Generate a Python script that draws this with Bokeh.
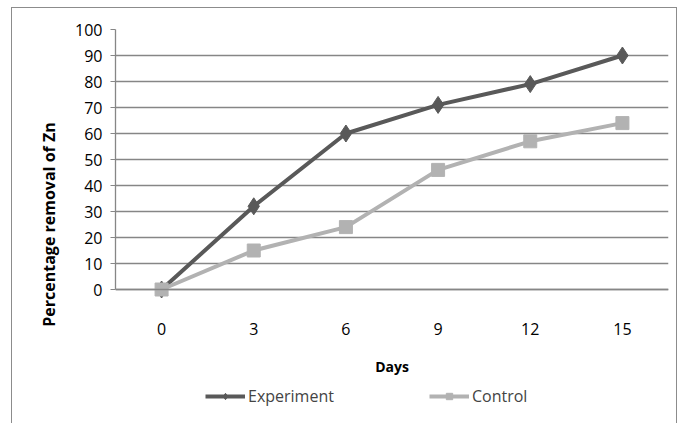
from bokeh.plotting import figure
from bokeh.models import Legend, LegendItem, FixedTicker
from bokeh.embed import file_html
from bokeh.resources import INLINE

days = ["0", "3", "6", "9", "12", "15"]
experiment = [0, 32, 60, 71, 79, 90]
control = [0, 15, 24, 46, 57, 64]
y_ticks = [0, 10, 20, 30, 40, 50, 60, 70, 80, 90, 100]

FONT = "Open Sans"
GRID = "#868686"

# the frame runs on below the value axis, so that the x labels, the axis title
# and the legend all sit inside it (x axis is pinned at y = 0)
p = figure(frame_width=553, frame_height=390, x_range=days, y_range=(-50, 100),
           output_backend="svg", toolbar_location=None,
           min_border_left=103, min_border_right=8, min_border_top=21, min_border_bottom=4)
p.styles = {"border-left": "1px solid #8c8c8c", "border-top": "1px solid #8c8c8c",
            "border-right": "1px solid #8c8c8c", "margin-left": "11px", "margin-top": "7px"}
p.outline_line_color = None
p.background_fill_color = "white"
p.border_fill_color = "white"

# grid
p.xgrid.grid_line_color = None
p.ygrid.grid_line_color = GRID
p.ygrid.grid_line_width = 1.3
p.yaxis.ticker = FixedTicker(ticks=y_ticks)
p.yaxis.bounds = (0, 100)

# y axis
p.yaxis.axis_line_color = GRID
p.yaxis.axis_line_width = 1.3
p.yaxis.major_tick_line_color = GRID
p.yaxis.major_tick_out = 5
p.yaxis.major_tick_in = 0
p.yaxis.minor_tick_line_color = None
p.yaxis.major_label_text_font = FONT
p.yaxis.major_label_text_font_size = "16px"
p.yaxis.major_label_text_color = "black"
p.yaxis.major_label_standoff = 8
p.yaxis.axis_label = "Percentage removal of Zn"
p.yaxis.axis_label_text_font = FONT
p.yaxis.axis_label_text_font_size = "16px"
p.yaxis.axis_label_text_font_style = "bold"
p.yaxis.axis_label_text_color = "black"
p.yaxis.axis_label_standoff = 12

# x axis
p.xaxis.fixed_location = 0
p.xaxis.axis_line_color = GRID
p.xaxis.axis_line_width = 1.3
p.xaxis.major_tick_line_color = None
p.xaxis.minor_tick_line_color = None
p.xaxis.major_label_text_font = FONT
p.xaxis.major_label_text_font_size = "16px"
p.xaxis.major_label_text_color = "black"
p.xaxis.major_label_standoff = 27
p.xaxis.axis_label = "Days"
p.xaxis.axis_label_text_font = FONT
p.xaxis.axis_label_text_font_size = "14px"
p.xaxis.axis_label_text_font_style = "bold"
p.xaxis.axis_label_text_color = "black"
p.xaxis.axis_label_standoff = 19

EXP = "#595959"
CTL = "#b2b2b2"

l1 = p.line(days, experiment, line_color=EXP, line_width=4)
m1 = p.scatter(days, experiment, marker="diamond", size=17, fill_color=EXP, line_color=EXP)
l2 = p.line(days, control, line_color=CTL, line_width=4)
m2 = p.scatter(days, control, marker="square", size=13, fill_color=CTL, line_color=CTL)

legend = Legend(items=[LegendItem(label="Experiment", renderers=[l1, m1]),
                       LegendItem(label="Control", renderers=[l2, m2])],
                orientation="horizontal", location=(90, 12),
                glyph_width=40, glyph_height=16, label_standoff=3, spacing=95,
                label_text_font=FONT, label_text_font_size="16px",
                padding=4, margin=0, border_line_color=None, background_fill_alpha=0)
p.add_layout(legend, "center")

open("out.html", "w").write(file_html(p, INLINE))
